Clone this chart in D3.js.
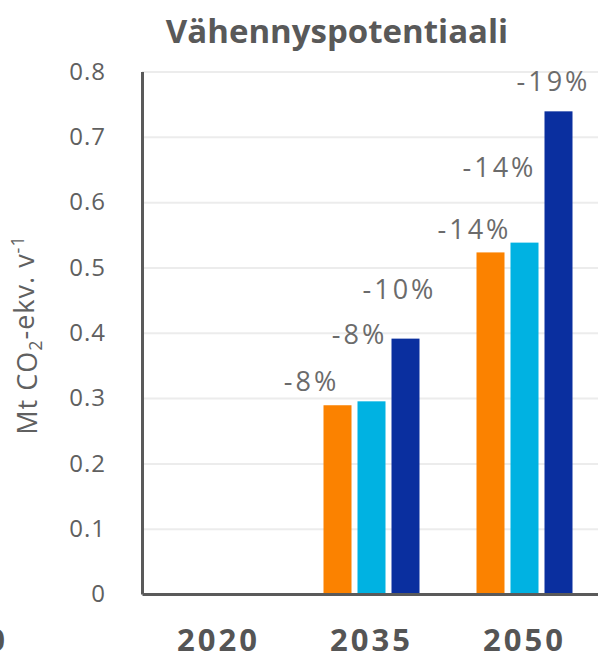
<!DOCTYPE html>
<html>
<head>
<meta charset="utf-8">
<script src="https://cdn.jsdelivr.net/npm/d3@7"></script>
<style>
  body { margin: 0; background: #fff; }
  svg { display: block; font-family: "Open Sans", sans-serif; }
</style>
</head>
<body>
<div id="container"></div>
<script>
/* CONSTANTS AND GLOBALS */
const width = 598;
const height = 657;

/* DATA */
const title = "Vähennyspotentiaali";
const years = ["2020", "2035", "2050"];
const seriesNames = ["s1", "s2", "s3"];
const orangeValues = [0, 0.289, 0.523];
const cyanValues = [0, 0.295, 0.538];
const navyValues = [0, 0.391, 0.739];
const orangeLabels = [null, "-8%", "-14%"];
const cyanLabels = [null, "-8%", "-14%"];
const navyLabels = [null, "-10%", "-19%"];
const yTicks = [0, 0.1, 0.2, 0.3, 0.4, 0.5, 0.6, 0.7, 0.8];
const cutLabel = "2050"; // neighbour panel, cut off at the left edge

const colors = ["#fb8200", "#00b2e2", "#0a2f9f"];

// flat table for bars
const table = [];
years.forEach((y, i) => {
  [orangeValues, cyanValues, navyValues].forEach((vals, j) => {
    const labs = [orangeLabels, cyanLabels, navyLabels][j];
    table.push({ year: y, series: seriesNames[j], value: vals[i], label: labs[i], si: j, yi: i });
  });
});

// hand nudges for the % labels (dx, dy from bar top centre), by [year][series]
const nudge = {
  "2035": [[-26, 24], [-12, 67], [-6, 49]],
  "2050": [[-16, 23], [-25, 75], [-5, 30]]
};

/* SCALES */
const plotLeft = 142, plotRight = 601;
const yScale = d3.scaleLinear().domain([0, 0.8]).range([594, 71.5]);
const xScale = d3.scaleBand().domain(years).range([plotLeft, plotRight]).padding(0);
const x1 = d3.scaleBand().domain(seriesNames).range([-48, 48]).paddingInner(6 / 34).paddingOuter(0);
const color = d3.scaleOrdinal().domain(seriesNames).range(colors);

/* SVG */
const svg = d3.select("#container")
  .append("svg")
  .attr("width", width)
  .attr("height", height);

// gridlines
svg.append("g")
  .attr("transform", `translate(${plotLeft},0)`)
  .call(d3.axisLeft(yScale).tickValues(yTicks.filter(t => t > 0)).tickSize(-(width - plotLeft)).tickFormat(""))
  .call(g => g.select(".domain").remove())
  .call(g => g.selectAll("line").attr("stroke", "#ececec").attr("stroke-width", 2));

// bars
svg.selectAll("rect.bar")
  .data(table.filter(d => d.value > 0))
  .join("rect")
  .attr("class", "bar")
  .attr("x", d => xScale(d.year) + xScale.bandwidth() / 2 + x1(d.series))
  .attr("y", d => yScale(d.value))
  .attr("width", x1.bandwidth())
  .attr("height", d => yScale(0) - yScale(d.value))
  .attr("fill", d => color(d.series));

// % labels
svg.selectAll("text.pct")
  .data(table.filter(d => d.label))
  .join("text")
  .attr("class", "pct")
  .attr("x", d => xScale(d.year) + xScale.bandwidth() / 2 + x1(d.series) + x1.bandwidth() / 2 + nudge[d.year][d.si][0])
  .attr("y", d => yScale(d.value) - nudge[d.year][d.si][1])
  .attr("dy", "0.36em")
  .attr("text-anchor", "middle")
  .attr("fill", "#6b6b6b")
  .style("font-size", "27px")
  .style("letter-spacing", "3px")
  .text(d => d.label);

// y axis
const yAxisGroup = svg.append("g")
  .attr("transform", `translate(${plotLeft},0)`)
  .call(d3.axisLeft(yScale).tickValues(yTicks).tickSize(0).tickSizeOuter(0).tickPadding(36).tickFormat(d => d === 0 ? "0" : d3.format(".1f")(d)));
yAxisGroup.select(".domain").attr("stroke", "#5a5a5a").attr("stroke-width", 3);
yAxisGroup.selectAll("text")
  .attr("fill", "#606060")
  .style("font-size", "24px")
  .style("font-family", "Open Sans, sans-serif")
  .style("letter-spacing", "1px");

// x axis
const xAxisGroup = svg.append("g")
  .attr("transform", `translate(0,${yScale(0)})`)
  .call(d3.axisBottom(xScale).tickSize(0).tickSizeOuter(0).tickPadding(35));
xAxisGroup.select(".domain").attr("stroke", "#5a5a5a").attr("stroke-width", 3);
xAxisGroup.selectAll("text")
  .attr("fill", "#555")
  .style("font-size", "31px")
  .style("font-weight", "bold")
  .style("font-family", "Open Sans, sans-serif")
  .style("letter-spacing", "3px");

// cut-off label from the panel on the left
svg.append("text")
  .attr("x", 8)
  .attr("y", yScale(0) + 35)
  .attr("dy", "0.71em")
  .attr("text-anchor", "end")
  .attr("fill", "#555")
  .style("font-size", "31px")
  .style("font-weight", "bold")
  .style("letter-spacing", "3px")
  .text(cutLabel);

// y axis title
const yTitle = svg.append("text")
  .attr("transform", "translate(37,335) rotate(-90)")
  .attr("text-anchor", "middle")
  .attr("fill", "#606060")
  .style("font-size", "27px")
  .style("letter-spacing", "1px");
yTitle.append("tspan").text("Mt CO");
yTitle.append("tspan").attr("dy", "0.3em").style("font-size", "18px").text("2");
yTitle.append("tspan").attr("dy", "-0.3em").text("-ekv. v");
yTitle.append("tspan").attr("dy", "-0.55em").style("font-size", "18px").text("-1");

// title
svg.append("text")
  .attr("x", 337)
  .attr("y", 43)
  .attr("text-anchor", "middle")
  .attr("fill", "#595959")
  .style("font-size", "33px")
  .style("font-weight", "bold")
  .text(title);
</script>
</body>
</html>
